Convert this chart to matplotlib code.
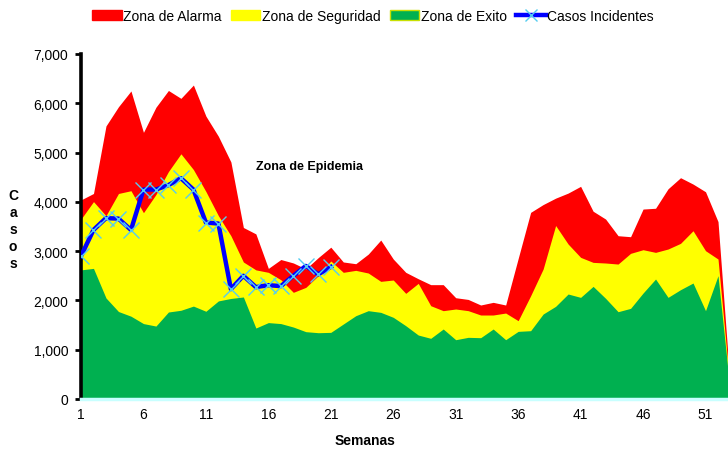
import matplotlib.pyplot as plt
from matplotlib.patches import Patch
from matplotlib.lines import Line2D
from matplotlib.ticker import FuncFormatter

plt.rcParams['font.family'] = ['Liberation Sans', 'DejaVu Sans']

semanas = list(range(1, 54))

# canal endemico (limites superiores de cada zona)
zona_alarma = [4040, 4170, 5540, 5930, 6250, 5410, 5920, 6260, 6100, 6370,
               5740, 5330, 4810, 3480, 3350, 2650, 2830, 2760, 2640, 2870,
               3080, 2780, 2745, 2940, 3225, 2840, 2570, 2440, 2320, 2320,
               2055, 2020, 1907, 1961, 1907, 2850, 3787, 3945, 4075, 4178,
               4315, 3810, 3651, 3313, 3293, 3854, 3870, 4265, 4490, 4361,
               4205, 3600, 200]
zona_seguridad = [3650, 4005, 3719, 4170, 4226, 3780, 4150, 4615, 4975, 4655,
                  4210, 3719, 3313, 2780, 2620, 2570, 2420, 2164, 2265, 2502,
                  2800, 2570, 2610, 2556, 2387, 2414, 2143, 2346, 1893, 1792,
                  1826, 1792, 1704, 1704, 1744, 1589, 2096, 2637, 3520, 3144,
                  2874, 2772, 2759, 2738, 2955, 3029, 2975, 3043, 3158, 3414,
                  3009, 2840, 150]
zona_exito = [2620, 2650, 2050, 1775, 1680, 1530, 1480, 1765, 1800, 1885,
              1780, 1990, 2040, 2070, 1440, 1550, 1530, 1460, 1366, 1345,
              1352, 1521, 1690, 1792, 1758, 1657, 1487, 1298, 1231, 1420,
              1203, 1251, 1244, 1420, 1203, 1372, 1386, 1724, 1880, 2130,
              2062, 2285, 2042, 1771, 1839, 2150, 2434, 2062, 2218, 2353,
              1792, 2502, 100]

# casos incidentes del año en curso
casos = [2900, 3430, 3670, 3660, 3430, 4250, 4250, 4340, 4480, 4250,
         3580, 3560, 2230, 2500, 2270, 2310, 2290, 2500, 2700, 2530, 2680]
semanas_casos = semanas[:len(casos)]

xticks = list(range(1, 53, 5))

W, H = 728, 452
fig = plt.figure(figsize=(W / 100, H / 100), dpi=100)
ax = fig.add_axes([81 / W, 52 / H, 649.5 / W, 345 / H])

ax.fill_between(semanas, zona_alarma, color='#ff0000', lw=0)
ax.fill_between(semanas, zona_seguridad, color='#ffff00', lw=0)
ax.fill_between(semanas, zona_exito, color='#00b050', lw=0)
ax.plot(semanas_casos, casos, color='#0000ff', lw=3.2, marker='x',
        markersize=12, markeredgecolor='#55ccf0', markeredgewidth=1.0,
        zorder=5)

ax.set_xlim(1, 53)
ax.set_ylim(0, 7000)
ax.set_yticks(range(0, 7001, 1000))
ax.yaxis.set_major_formatter(FuncFormatter(lambda v, p: f"{int(v):,}"))
ax.set_xticks(xticks)
ax.tick_params(axis='y', direction='out', length=4, width=2, pad=5,
               labelsize=10)
ax.tick_params(axis='x', length=0, pad=6, labelsize=10)

for s in ['top', 'right']:
    ax.spines[s].set_visible(False)
ax.spines['left'].set_linewidth(2.6)
ax.spines['left'].set_color('black')
ax.spines['bottom'].set_color('#c8ffff')
ax.spines['bottom'].set_linewidth(2.5)
ax.spines['bottom'].set_linestyle((0, (3, 1)))

# textos en coordenadas de figura
fig.text(309 / W, 1 - 167 / H, "Zona de Epidemia", fontsize=9,
         fontweight='bold', ha='center', va='center')
fig.text(365 / W, 1 - 441 / H, "Semanas", fontsize=10,
         fontweight='bold', ha='center', va='center')
fig.text(13 / W, 1 - 230 / H, "C\na\ns\no\ns", fontsize=10,
         fontweight='bold', ha='center', va='center', linespacing=1.25)

handles = [Patch(color='#ff0000'), Patch(color='#ffff00'),
           Patch(color='#00b050', ec='#c8e000'),
           Line2D([], [], color='#0000ff', lw=3.2, marker='x',
                  markersize=8, markeredgecolor='#55ccf0')]
labels = ["Zona de Alarma", "Zona de Seguridad", "Zona de Exito",
          "Casos Incidentes"]
fig.legend(handles, labels, loc='center', bbox_to_anchor=(373 / W, 1 - 17 / H),
           ncol=4, frameon=False, fontsize=10, handlelength=2.1,
           handleheight=0.7, handletextpad=0.1, columnspacing=0.7)

fig.savefig("out.png", dpi=100)
